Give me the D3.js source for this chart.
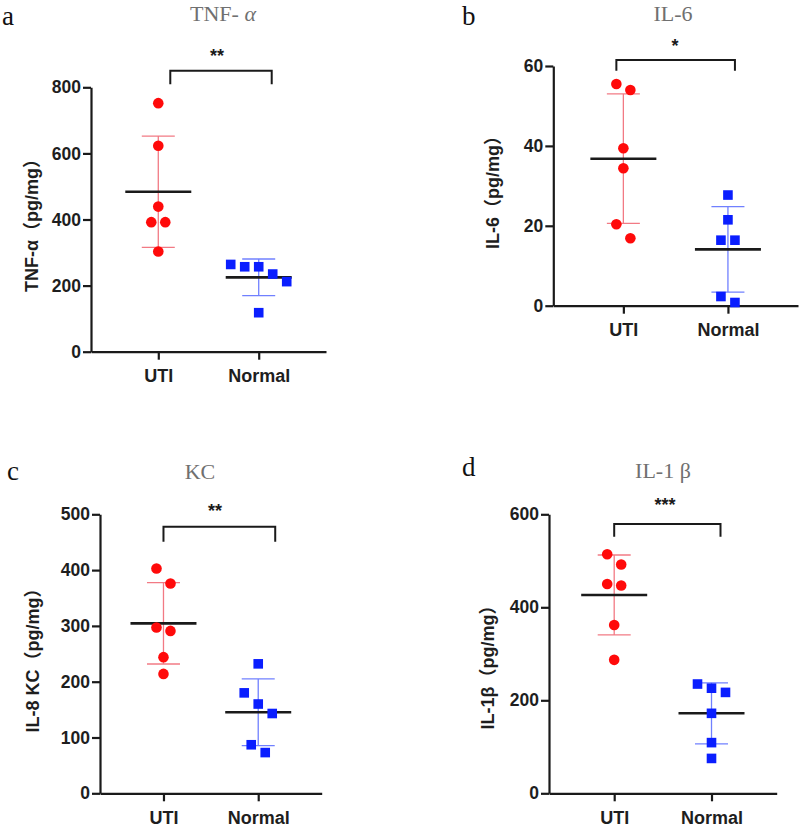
<!DOCTYPE html>
<html><head><meta charset="utf-8">
<script src="https://cdn.jsdelivr.net/npm/d3@7"></script>
<style>body{margin:0;background:#fff} svg{display:block}</style>
</head><body>
<svg id="chart" width="800" height="829"></svg>
<script>
// ---------- data ----------
const groups = ["UTI", "Normal"];

// a: TNF-α
const tnfUTI = [752, 623, 439, 392, 392, 303];
const tnfNormal = [264, 257, 257, 235, 212, 118];
const tnfMean = [484, 225];
const tnfSD = [168.5, 55.5];
const tnfTicks = [0, 200, 400, 600, 800];

// b: IL-6
const il6UTI = [55.5, 54.0, 39.4, 34.4, 20.4, 16.9];
const il6Normal = [27.7, 21.5, 16.4, 16.4, 2.3, 0.8];
const il6Mean = [36.8, 14.1];
const il6SD = [16.2, 10.7];
const il6Ticks = [0, 20, 40, 60];

// c: KC (IL-8)
const kcUTI = [403, 376, 297, 291, 244, 214];
const kcNormal = [232, 180, 160, 143, 87, 73];
const kcMean = [304.6, 145.2];
const kcSD = [72.9, 59.7];
const kcTicks = [0, 100, 200, 300, 400, 500];

// d: IL-1β
const il1UTI = [514, 492, 450, 447, 362, 287];
const il1Normal = [235, 226, 217, 172, 109, 75];
const il1Mean = [426.5, 172];
const il1SD = [86, 65.6];
const il1Ticks = [0, 200, 400, 600];

const panelLetters = ["a", "b", "c", "d"];
const panelTitles = ["TNF- ", "IL-6", "KC", "IL-1 β"];
const yTitles = ["TNF-α（pg/mg）", "IL-6（pg/mg）", "IL-8 KC（pg/mg）", "IL-1β（pg/mg）"];
const sigLabels = ["**", "*", "**", "***"];

// ---------- layout (pixels) ----------
const layouts = [
  {x0: 91, x1: 326, yTop: 87.3, yBot: 351.7, letter: [2, 25], title: [223, 21], ylab: [32, 221],
   br: {dl: 12, dr: 13, top: -16.6, leg: -3}, star: [217, 53]},
  {x0: 553.3, x1: 798, yTop: 66, yBot: 305.7, letter: [462, 25], title: [673, 21], ylab: [493, 188],
   br: {dl: -7, dr: 7, top: -6, leg: 4.7}, star: [675, 43]},
  {x0: 100, x1: 321.7, yTop: 514.3, yBot: 793.3, letter: [7, 480], title: [200, 479], ylab: [33, 656],
   br: {dl: 0, dr: 17, top: 12.4, leg: 27.4}, star: [215, 508]},
  {x0: 549, x1: 776.7, yTop: 514.3, yBot: 793.3, letter: [462, 476], title: [663, 478], ylab: [488, 663],
   br: {dl: 0, dr: 9, top: 9.7, leg: 22.4}, star: [665, 502]}
];

const panels = [
  {uti: tnfUTI, normal: tnfNormal, mean: tnfMean, sd: tnfSD, ticks: tnfTicks},
  {uti: il6UTI, normal: il6Normal, mean: il6Mean, sd: il6SD, ticks: il6Ticks},
  {uti: kcUTI, normal: kcNormal, mean: kcMean, sd: kcSD, ticks: kcTicks},
  {uti: il1UTI, normal: il1Normal, mean: il1Mean, sd: il1SD, ticks: il1Ticks}
];

const RED = "#ff0a0a", BLUE = "#0a1eff";
const RED_BAR = "#f27a84", BLUE_BAR = "#7080ff";
const SANS = "'Liberation Sans', Arial, 'Noto Sans CJK SC', sans-serif";
const SERIF = "'Liberation Serif', 'Times New Roman', serif";

const svg = d3.select("#chart");

function swarm(values, y, T, S) {
  const idx = values.map((v, i) => i).sort((a, b) => values[b] - values[a]);
  const rows = []; let cur = null, prev = null;
  idx.forEach(i => {
    const py = y(values[i]);
    if (cur && Math.abs(py - prev) <= T) cur.push(i); else { cur = [i]; rows.push(cur); }
    prev = py;
  });
  const off = new Array(values.length).fill(0);
  rows.forEach(r => r.forEach((i, k) => off[i] = (k - (r.length - 1) / 2) * S));
  return off;
}

panels.forEach((p, pi) => {
  const L = layouts[pi];
  const g = svg.append("g");
  const y = d3.scaleLinear().domain([0, d3.max(p.ticks)]).range([L.yBot, L.yTop]);
  const x = d3.scalePoint().domain(groups).range([L.x0, L.x1]).padding(0.67);

  // axes
  const yAx = g.append("g").attr("transform", `translate(${L.x0},0)`)
    .call(d3.axisLeft(y).tickValues(p.ticks).tickSize(8).tickSizeOuter(0).tickPadding(2));
  const xAx = g.append("g").attr("transform", `translate(0,${L.yBot})`)
    .call(d3.axisBottom(x).tickSize(8).tickSizeOuter(0).tickPadding(10));
  [yAx, xAx].forEach(ax => {
    ax.select(".domain").attr("stroke", "#1a1a1a").attr("stroke-width", 2.2);
    ax.selectAll(".tick line").attr("stroke", "#1a1a1a").attr("stroke-width", 2.2);
    ax.selectAll("text").attr("fill", "#1e1e1e").attr("font-family", SANS).attr("font-weight", "bold");
  });
  yAx.selectAll("text").attr("font-size", 17.5);
  xAx.selectAll("text").attr("font-size", 18);

  // y title
  g.append("text").attr("transform", `translate(${L.ylab[0]},${L.ylab[1]}) rotate(-90)`)
    .attr("text-anchor", "middle").attr("dy", "0.36em")
    .attr("font-family", SANS).attr("font-weight", "bold").attr("font-size", 18).attr("fill", "#1e1e1e")
    .text(yTitles[pi]);

  // panel letter and title
  g.append("text").attr("x", L.letter[0]).attr("y", L.letter[1])
    .attr("font-family", SERIF).attr("font-size", 27).attr("fill", "#111").text(panelLetters[pi]);
  const t = g.append("text").attr("x", L.title[0]).attr("y", L.title[1]).attr("text-anchor", "middle")
    .attr("font-family", SERIF).attr("font-size", 22).attr("fill", "#707070").text(panelTitles[pi]);
  if (pi === 0) t.append("tspan").attr("font-style", "italic").text("α");

  // significance bracket
  const bx1 = x("UTI") + L.br.dl, bx2 = x("Normal") + L.br.dr;
  const bt = L.yTop + L.br.top, bl = L.yTop + L.br.leg;
  g.append("path").attr("d", `M${bx1},${bl}V${bt}H${bx2}V${bl}`)
    .attr("fill", "none").attr("stroke", "#1a1a1a").attr("stroke-width", 2);
  g.append("text").attr("x", L.star[0]).attr("y", L.star[1] + 9).attr("text-anchor", "middle")
    .attr("font-family", SANS).attr("font-weight", "bold").attr("font-size", 18).attr("fill", "#1a1a1a")
    .text(sigLabels[pi]);

  const series = [
    {name: "UTI", vals: p.uti, mean: p.mean[0], sd: p.sd[0], color: RED, bar: RED_BAR, shape: "circle"},
    {name: "Normal", vals: p.normal, mean: p.mean[1], sd: p.sd[1], color: BLUE, bar: BLUE_BAR, shape: "square"}
  ];

  series.forEach(s => {
    const cx = x(s.name);
    // SD error bar
    const eb = g.append("g").attr("stroke", s.bar).attr("stroke-width", 1.3).attr("fill", "none");
    eb.append("line").attr("x1", cx).attr("x2", cx).attr("y1", y(s.mean + s.sd)).attr("y2", y(s.mean - s.sd));
    [s.mean + s.sd, s.mean - s.sd].forEach(v =>
      eb.append("line").attr("x1", cx - 16.5).attr("x2", cx + 16.5).attr("y1", y(v)).attr("y2", y(v)));
    // mean line
    g.append("line").attr("x1", cx - 33).attr("x2", cx + 33).attr("y1", y(s.mean)).attr("y2", y(s.mean))
      .attr("stroke", "#1a1a1a").attr("stroke-width", 2.6);
    // points
    const off = swarm(s.vals, y, 15.3, 14);
    s.vals.forEach((v, i) => {
      if (s.shape === "circle") {
        g.append("circle").attr("cx", cx + off[i]).attr("cy", y(v)).attr("r", 5.3).attr("fill", s.color);
      } else {
        g.append("rect").attr("x", cx + off[i] - 4.8).attr("y", y(v) - 4.8)
          .attr("width", 9.6).attr("height", 9.6).attr("fill", s.color);
      }
    });
  });
});
</script>
</body></html>
